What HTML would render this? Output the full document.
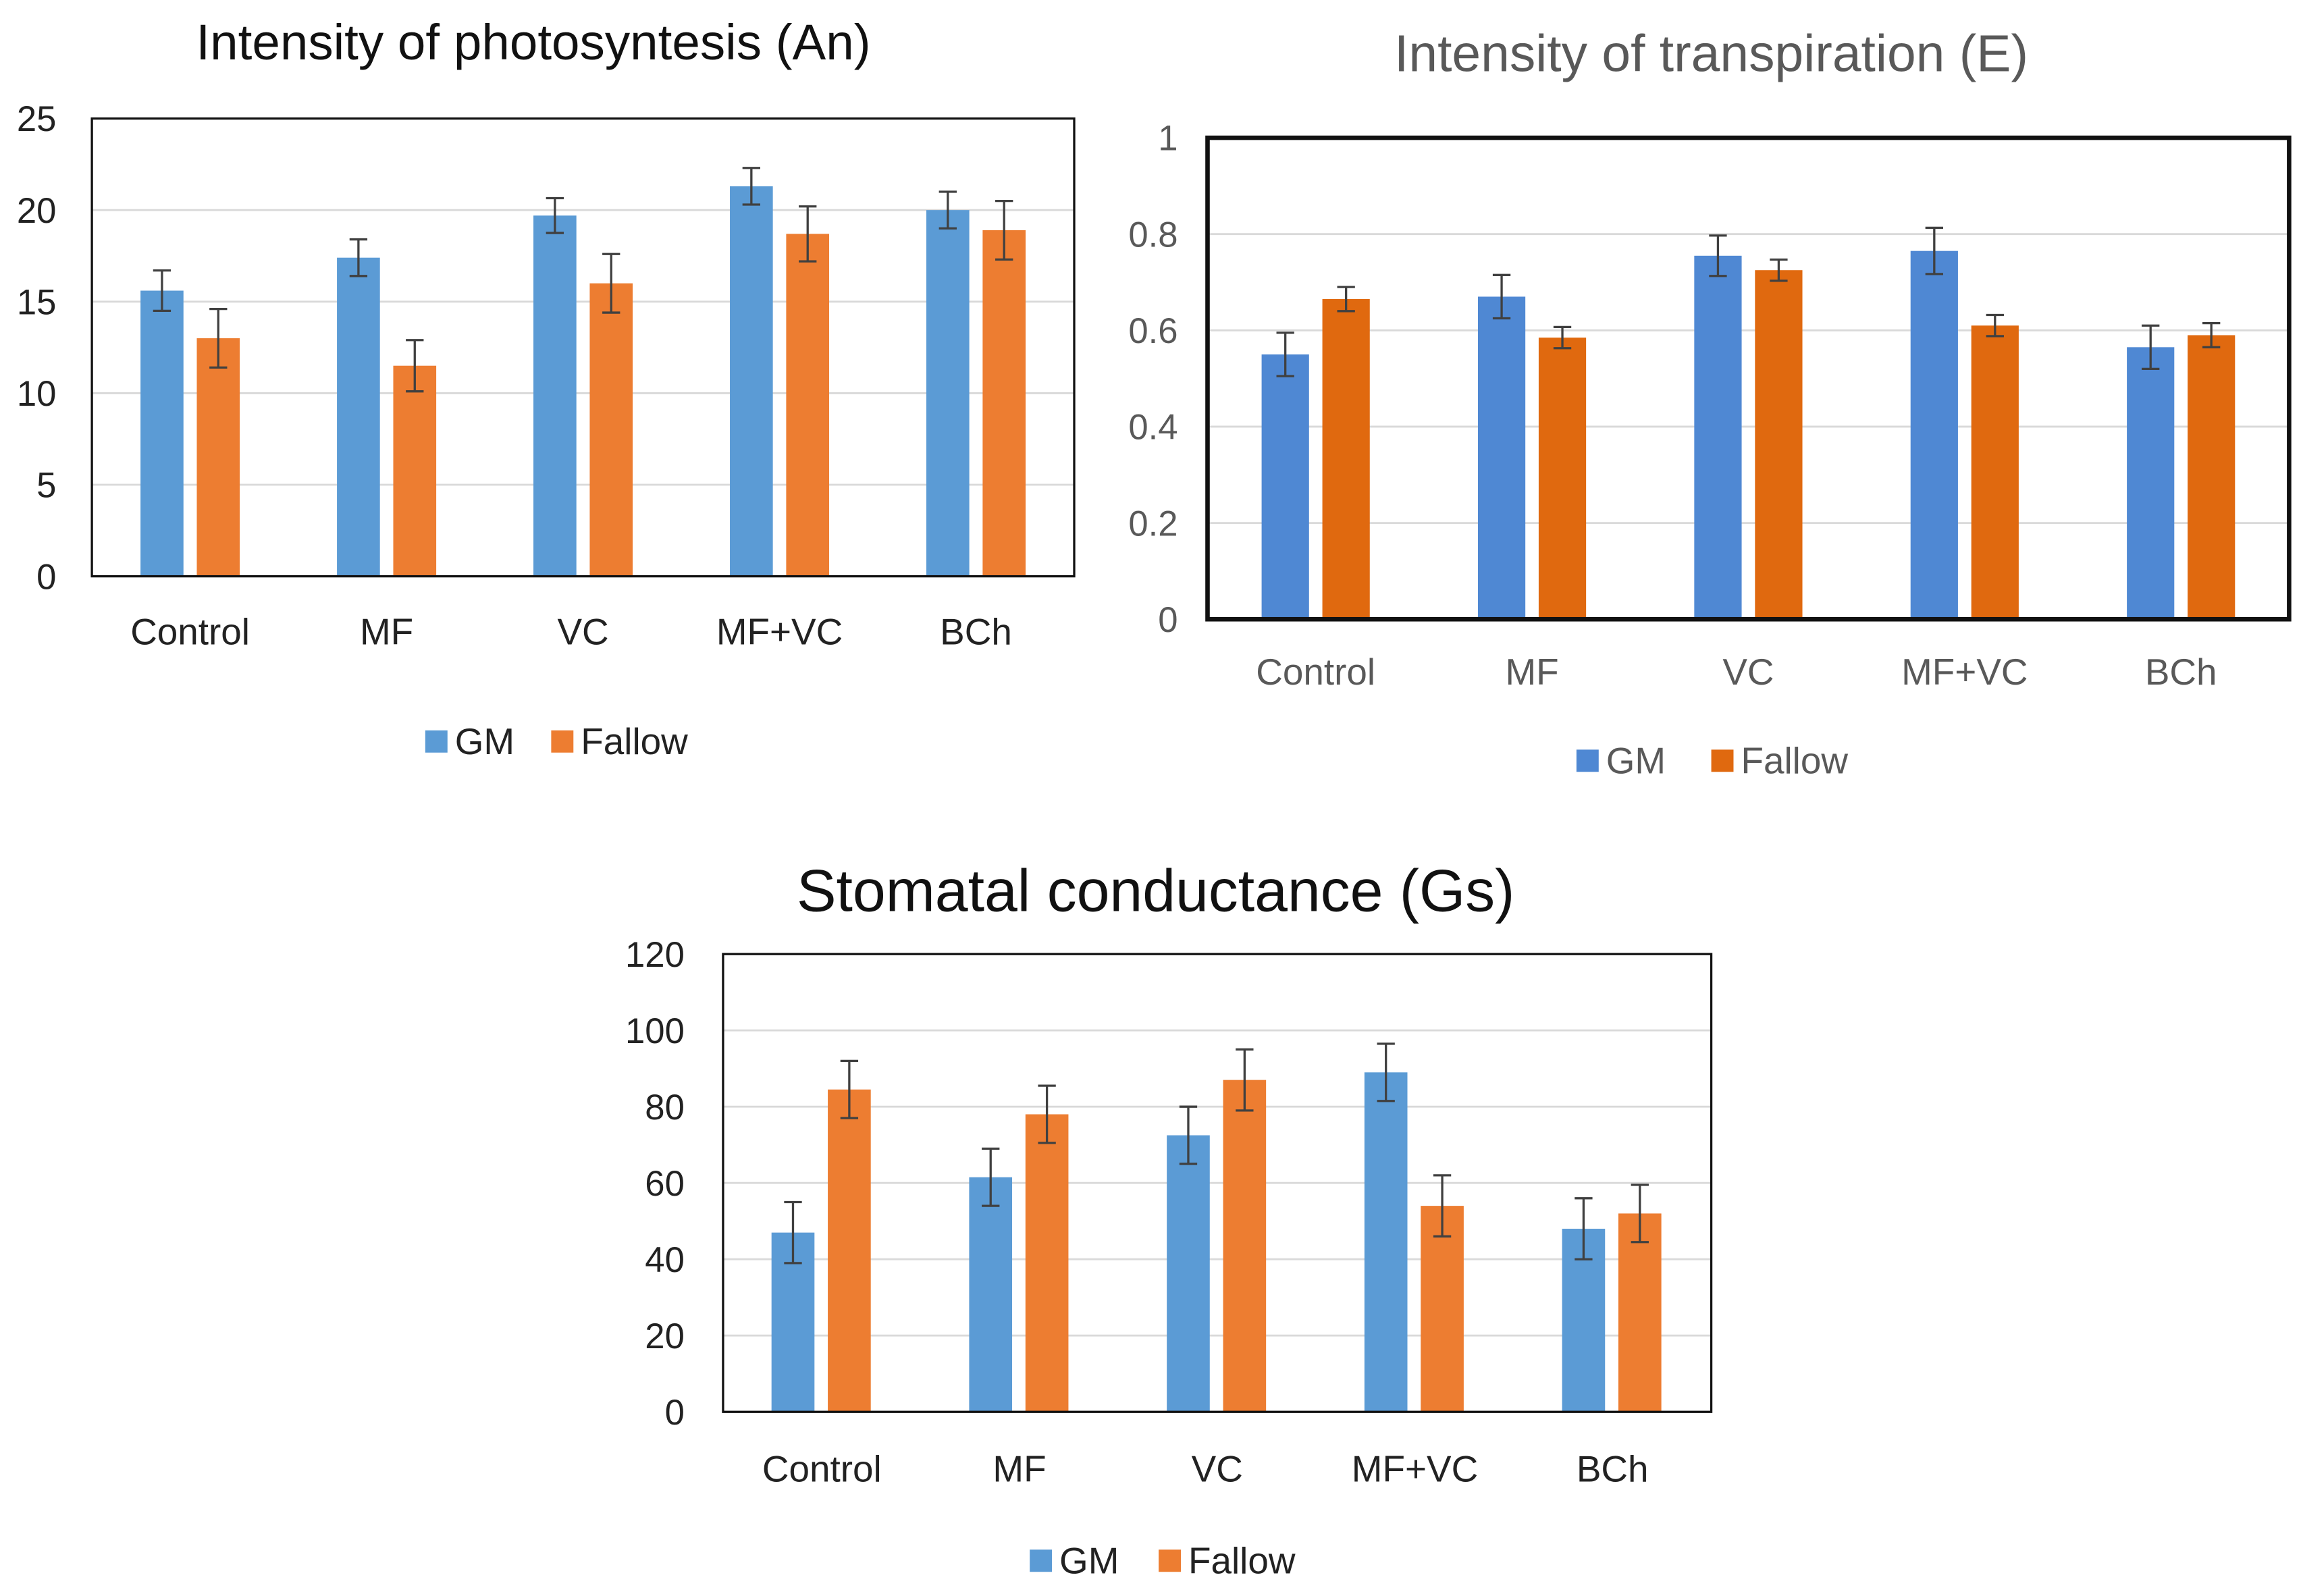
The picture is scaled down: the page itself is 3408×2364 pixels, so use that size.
<!DOCTYPE html>
<html><head><meta charset="utf-8">
<style>
html,body{margin:0;padding:0;background:#fff;}
svg{display:block;}
text{font-family:"Liberation Sans",sans-serif;}
</style></head>
<body>
<svg id="fig" width="3408" height="2364" viewBox="0 0 1553 1077.3" xmlns="http://www.w3.org/2000/svg">
<rect width="1553" height="1078" fill="#fff"/>
</svg>
<script>
const categories = ["Control","MF","VC","MF+VC","BCh"];
const anGM = [15.6,17.4,19.7,21.3,20.0];
const anGMerr = [1.1,1.0,0.95,1.0,1.0];
const anFallow = [13.0,11.5,16.0,18.7,18.9];
const anFallowErr = [1.6,1.4,1.6,1.5,1.6];
const anTicks = [0,5,10,15,20,25];
const eGM = [0.55,0.67,0.755,0.765,0.565];
const eGMerr = [0.045,0.045,0.042,0.048,0.045];
const eFallow = [0.665,0.585,0.725,0.61,0.59];
const eFallowErr = [0.025,0.022,0.022,0.022,0.025];
const eTicks = [0,0.2,0.4,0.6,0.8,1];
const eTickLabels = ["0","0.2","0.4","0.6","0.8","1"];
const gsGM = [47,61.5,72.5,89,48];
const gsGMerr = [8,7.5,7.5,7.5,8];
const gsFallow = [84.5,78,87,54,52];
const gsFallowErr = [7.5,7.5,8,8,7.5];
const gsTicks = [0,20,40,60,80,100,120];

const NS="http://www.w3.org/2000/svg";
const svg=document.getElementById('fig');
function mk(tag,attrs,parent,txt){const e=document.createElementNS(NS,tag);for(const k in attrs)e.setAttribute(k,attrs[k]);if(txt!==undefined)e.textContent=txt;(parent||svg).appendChild(e);return e;}

function chart(o){
  const g=mk('g',{});
  
  
  const y=v=>o.y1-(v-o.vmin)/(o.vmax-o.vmin)*(o.y1-o.y0);
  const cw=(o.x1-o.x0)/categories.length;
  const t=mk('text',{x:o.titleX,y:o.titleY,'text-anchor':'middle','font-size':o.titleSize,fill:o.titleColor},g,o.title);
  
  
  o.ticks.forEach((v,i)=>{
    if(i>0&&v<o.vmax){const gl=mk('line',{x1:o.x0,x2:o.x1,y1:y(v),y2:y(v),stroke:'#d9d9d9','stroke-width':1.3},g);
      
      }
    const tl=mk('text',{x:o.tickX,y:y(v)+8.5,'text-anchor':'end','font-size':24,fill:o.textColor},g,o.tickLabels?o.tickLabels[i]:String(v));
    
    
  });
  const series=[[o.gm,o.gmErr,o.cGM,-1],[o.fa,o.faErr,o.cFa,1]];
  categories.forEach((c,i)=>{
    const cx=o.x0+cw*(i+0.5);
    series.forEach(([vals,errs,col,side],si)=>{
      const bx=cx+(side<0?-(o.gap/2+o.bw):o.gap/2)+o.shift;
      const b=mk('rect',{x:bx,y:y(vals[i]),width:o.bw,height:y(o.vmin)-y(vals[i]),fill:col},g);
      
      
      const mx=bx+o.bw/2, hi=y(vals[i]+errs[i]), lo=y(vals[i]-errs[i]);
      const eb=mk('path',{d:`M${mx},${hi}V${lo}M${mx-6},${hi}H${mx+6}M${mx-6},${lo}H${mx+6}`,stroke:'#404040','stroke-width':1.5,fill:'none'},g);
      
      
    });
    const cl=mk('text',{x:cx,y:o.catY,'text-anchor':'middle','font-size':25,fill:o.textColor},g,c);
    
    
  });
  const fr=mk('rect',{x:o.x0,y:o.y0,width:o.x1-o.x0,height:o.y1-o.y0,fill:'none',stroke:'#111','stroke-width':o.frame},g);
  
  
  const lg=mk('g',{},g);
  
  
  [[o.legGM,o.cGM,'GM'],[o.legFa,o.cFa,'Fallow']].forEach(([lx,col,lab])=>{
    const sq=mk('rect',{x:lx,y:o.legY-7,width:15,height:15,fill:col},lg);
    
    
    const lt=mk('text',{x:lx+20,y:o.legY+9,'font-size':25,fill:o.textColor},lg,lab);
    
    
  });
}

chart({name:'chart-photosynthesis',title:'Intensity of photosyntesis (An)',titleX:360,titleY:40,titleSize:34,titleColor:'#111',
  x0:62,x1:725,y0:80,y1:389,vmin:0,vmax:25,ticks:anTicks,tickX:38,catY:435,textColor:'#222',
  gm:anGM,gmErr:anGMerr,fa:anFallow,faErr:anFallowErr,cGM:'#5b9bd5',cFa:'#ed7d31',bw:29,gap:9,shift:0,frame:1.5,
  legGM:287,legFa:372,legY:500});
chart({name:'chart-transpiration',title:'Intensity of transpiration (E)',titleX:1155,titleY:48,titleSize:35,titleColor:'#595959',
  x0:815,x1:1545,y0:93,y1:418,vmin:0,vmax:1,ticks:eTicks,tickLabels:eTickLabels,tickX:795,catY:462,textColor:'#595959',
  gm:eGM,gmErr:eGMerr,fa:eFallow,faErr:eFallowErr,cGM:'#4f88d3',cFa:'#e0690f',bw:32,gap:9,shift:0,frame:3,
  legGM:1064,legFa:1155,legY:513});
chart({name:'chart-stomatal-conductance',title:'Stomatal conductance (Gs)',titleX:780,titleY:615,titleSize:40,titleColor:'#111',
  x0:488,x1:1155,y0:644,y1:953,vmin:0,vmax:120,ticks:gsTicks,tickX:462,catY:1000,textColor:'#222',
  gm:gsGM,gmErr:gsGMerr,fa:gsFallow,faErr:gsFallowErr,cGM:'#5b9bd5',cFa:'#ed7d31',bw:29,gap:9,shift:-0.5,frame:1.5,
  legGM:695,legFa:782,legY:1053});
</script>
</body></html>
